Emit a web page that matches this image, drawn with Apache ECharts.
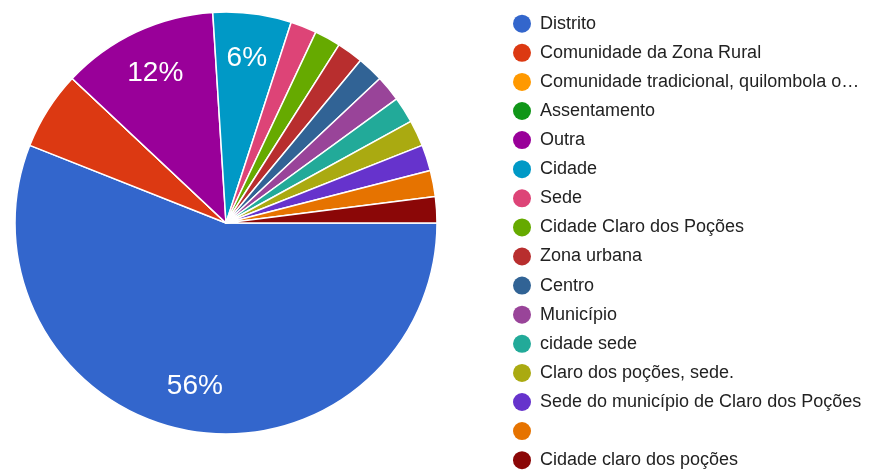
<!DOCTYPE html>
<html>
<head>
<meta charset="utf-8">
<script src="https://cdn.jsdelivr.net/npm/echarts@6/dist/echarts.min.js"></script>
<style>
html,body{margin:0;padding:0;background:#fff;}
#chart{width:872px;height:471px;}
</style>
</head>
<body>
<div id="chart"></div>
<script>
// Categories (legend order) and response counts
var categories = [
  'Distrito',
  'Comunidade da Zona Rural',
  'Comunidade tradicional, quilombola o\u2026',
  'Assentamento',
  'Outra',
  'Cidade',
  'Sede',
  'Cidade Claro dos Poções',
  'Zona urbana',
  'Centro',
  'Município',
  'cidade sede',
  'Claro dos poções, sede.',
  'Sede do município de Claro dos Poções',
  '\u00a0',
  'Cidade claro dos poções'
];
var counts = [28, 3, 0, 0, 6, 3, 1, 1, 1, 1, 1, 1, 1, 1, 1, 1];
var labeledSlices = ['Distrito', 'Outra', 'Cidade'];
var palette = ['#3366cc','#dc3912','#ff9900','#109618','#990099','#0099c6','#dd4477','#66aa00',
               '#b82e2e','#316395','#994499','#22aa99','#aaaa11','#6633cc','#e67300','#8b0707'];

var pieData = categories.map(function (c, i) { return { name: c, value: counts[i] }; });
var labelData = categories.map(function (c, i) {
  return { name: c, value: counts[i], label: { show: labeledSlices.indexOf(c) >= 0 } };
});

var chart = echarts.init(document.getElementById('chart'), null, { renderer: 'canvas' });
chart.setOption({
  animation: false,
  color: palette,
  legend: {
    orient: 'vertical',
    left: 513,
    top: 14.7,
    padding: 0,
    height: 460,
    icon: 'circle',
    itemWidth: 18,
    itemHeight: 18,
    itemGap: 11.1,
    selectedMode: false,
    data: categories,
    itemStyle: { borderWidth: 0 },
    textStyle: { fontFamily: 'Liberation Sans', fontSize: 18, lineHeight: 18, color: '#222222', padding: [0, 0, 0, 4] }
  },
  series: [
    {
      type: 'pie',
      center: [226, 223],
      radius: [0, 211],
      startAngle: 0,
      clockwise: true,
      avoidLabelOverlap: false,
      label: { show: false },
      labelLine: { show: false },
      itemStyle: { borderColor: '#ffffff', borderWidth: 1.5 },
      emphasis: { disabled: true },
      data: pieData
    },
    {
      type: 'pie',
      center: [226, 223],
      radius: [115, 211],
      startAngle: 0,
      clockwise: true,
      silent: true,
      avoidLabelOverlap: false,
      legendHoverLink: false,
      itemStyle: { color: 'rgba(0,0,0,0)', borderWidth: 0 },
      labelLine: { show: false },
      label: {
        position: 'inside',
        color: '#ffffff',
        fontFamily: 'Liberation Sans',
        fontSize: 28,
        formatter: function (p) { return Math.round(p.percent) + '%'; }
      },
      emphasis: { disabled: true },
      data: labelData
    }
  ]
});
</script>
</body>
</html>
